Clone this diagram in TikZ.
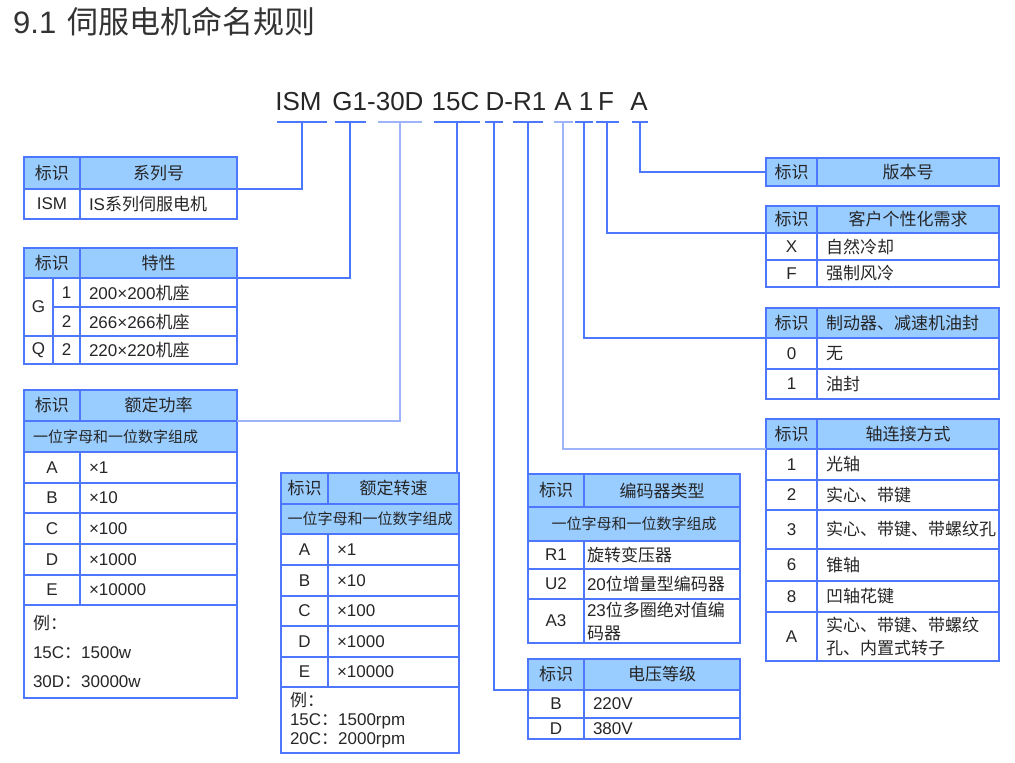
\documentclass[tikz,border=0pt]{standalone}
\usepackage{fontspec}
\setmainfont{Liberation Sans}
\newfontfamily\zhfont{Noto Sans CJK SC}
\newcommand{\zh}[1]{{\zhfont #1}}

\definecolor{tblline}{RGB}{77,119,255}
\definecolor{tblhead}{RGB}{153,204,255}
\definecolor{linkfade}{RGB}{158,180,250}

% one table cell from its corners: [style]{pad}{name}{x1}{y1}{x2}{y2}{text}
\newcommand{\cellnode}[8][]{%
    \pgfmathsetmacro\cellw{#6-#4-2*#2}%
    \pgfmathsetmacro\cellh{#7-#5}%
    \node[cell, inner xsep=#2pt, text width=\cellw pt, minimum height=\cellh pt, #1]
        (#3) at ({(#4+#6)/2}, {(#5+#7)/2}) {#8};%
}
\newcommand{\tcell}[7][]{\cellnode[align=center, #1]{2}{#2}{#3}{#4}{#5}{#6}{#7}}
\newcommand{\vcell}[7][]{\cellnode[align=left, #1]{\cpad}{#2}{#3}{#4}{#5}{#6}{#7}}
\def\cpad{9}

\begin{document}
\begin{tikzpicture}[
    x=1pt, y=-1pt,
    cell/.style={draw=tblline, line width=1.6pt, inner ysep=0pt, outer sep=0pt,
        font=\fontsize{17}{23}\selectfont, text=black!85},
    hdr/.style={fill=tblhead},
    subhdr/.style={fill=tblhead, font=\fontsize{15}{18}\selectfont},
    exrow/.style={font=\fontsize{17}{29}\selectfont},
    exrowtight/.style={font=\fontsize{17}{19}\selectfont},
    code/.style={anchor=base, inner sep=0pt, font=\fontsize{26}{30}\selectfont, text=black!85},
    uline/.style={inner sep=0pt, outer sep=0pt, minimum height=0pt},
    link/.style={draw=tblline, line width=1.6pt},
    fadelink/.style={link, draw=linkfade},
]
\useasboundingbox (0,0) rectangle (1015,763);

% ================================================================
%  TITLE AND MODEL CODE
% ================================================================
\node[anchor=base west, inner sep=0pt, font=\fontsize{31}{36}\selectfont, text=black!80]
    (title) at (13,33) {9.1\hskip 11pt\zh{伺服电机命名规则}};

\node[code] (cISM)  at (298.5,110) {ISM};
\node[code] (cG30D) at (378,110)   {G1-30D};
\node[code] (c15C)  at (455.5,110) {15C};
\node[code] (cDR1)  at (516,110)   {D-R1};
\node[code] (cA)    at (563,110)   {A};
\node[code] (cOne)  at (586,110)   {1};
\node[code] (cF)    at (606,110)   {F};
\node[code] (cVer)  at (639,110)   {A};

% underlines below the code
\node[uline, minimum width=50pt] (uISM) at (302,122) {};
\node[uline, minimum width=31pt] (uG1)  at (350,122) {};
\node[uline, minimum width=44pt] (u30D) at (400,122) {};
\node[uline, minimum width=46pt] (u15C) at (457,122) {};
\node[uline, minimum width=18pt] (uD)   at (494,122) {};
\node[uline, minimum width=30pt] (uR1)  at (528,122) {};
\node[uline, minimum width=19pt] (uA)   at (563,122) {};
\node[uline, minimum width=18pt] (uOne) at (584,122) {};
\node[uline, minimum width=23pt] (uF)   at (607,122) {};
\node[uline, minimum width=16pt] (uVer) at (640,122) {};

% ================================================================
%  LEFT COLUMN
% ================================================================
\def\cpad{9}
% --- series ---
\tcell[hdr]{ismH1}{24}{157}{80}{189}{\zh{标识}}
\tcell[hdr]{ismH2}{80}{157}{237}{189}{\zh{系列号}}
\tcell{ismK}{24}{189}{80}{219}{ISM}
\vcell{ismV}{80}{189}{237}{219}{IS\zh{系列伺服电机}}

% --- characteristic ---
\tcell[hdr]{chrH1}{24}{248}{80}{278}{\zh{标识}}
\tcell[hdr]{chrH2}{80}{248}{237}{278}{\zh{特性}}
\tcell{chrG}{24}{278}{53}{336}{G}
\tcell{chrK1}{53}{278}{80}{307}{1}
\vcell{chrV1}{80}{278}{237}{307}{200×200\zh{机座}}
\tcell{chrK2}{53}{307}{80}{336}{2}
\vcell{chrV2}{80}{307}{237}{336}{266×266\zh{机座}}
\tcell{chrQ}{24}{336}{53}{364}{Q}
\tcell{chrK3}{53}{336}{80}{364}{2}
\vcell{chrV3}{80}{336}{237}{364}{220×220\zh{机座}}

% --- rated power ---
\tcell[hdr]{powH1}{24}{390}{80}{421}{\zh{标识}}
\tcell[hdr]{powH2}{80}{390}{237}{421}{\zh{额定功率}}
\vcell[subhdr]{powS}{24}{421}{237}{452}{\zh{一位字母和一位数字组成}}
\tcell{powKA}{24}{452}{80}{483}{A}
\vcell{powVA}{80}{452}{237}{483}{×1}
\tcell{powKB}{24}{483}{80}{513}{B}
\vcell{powVB}{80}{483}{237}{513}{×10}
\tcell{powKC}{24}{513}{80}{544}{C}
\vcell{powVC}{80}{513}{237}{544}{×100}
\tcell{powKD}{24}{544}{80}{575}{D}
\vcell{powVD}{80}{544}{237}{575}{×1000}
\tcell{powKE}{24}{575}{80}{605}{E}
\vcell{powVE}{80}{575}{237}{605}{×10000}
\vcell[exrow]{powEx}{24}{605}{237}{698}{\zh{例：}\\15C\zh{：}1500w\\30D\zh{：}30000w}

% ================================================================
%  MIDDLE COLUMN
% ================================================================
% --- rated speed ---
\tcell[hdr]{spdH1}{281}{473}{328}{504}{\zh{标识}}
\tcell[hdr]{spdH2}{328}{473}{459}{504}{\zh{额定转速}}
\tcell[subhdr]{spdS}{281}{504}{459}{534}{\zh{一位字母和一位数字组成}}
\tcell{spdKA}{281}{534}{328}{565}{A}
\vcell{spdVA}{328}{534}{459}{565}{×1}
\tcell{spdKB}{281}{565}{328}{596}{B}
\vcell{spdVB}{328}{565}{459}{596}{×10}
\tcell{spdKC}{281}{596}{328}{626}{C}
\vcell{spdVC}{328}{596}{459}{626}{×100}
\tcell{spdKD}{281}{626}{328}{657}{D}
\vcell{spdVD}{328}{626}{459}{657}{×1000}
\tcell{spdKE}{281}{657}{328}{687}{E}
\vcell{spdVE}{328}{657}{459}{687}{×10000}
\vcell[exrowtight]{spdEx}{281}{687}{459}{753}{\zh{例：}\\15C\zh{：}1500rpm\\20C\zh{：}2000rpm}

% --- encoder ---
\def\cpad{3}
\tcell[hdr]{encH1}{528}{474}{584}{507}{\zh{标识}}
\tcell[hdr]{encH2}{584}{474}{740}{507}{\zh{编码器类型}}
\tcell[subhdr]{encS}{528}{507}{740}{541}{\zh{一位字母和一位数字组成}}
\tcell{encK1}{528}{541}{584}{569}{R1}
\vcell{encV1}{584}{541}{740}{569}{\zh{旋转变压器}}
\tcell{encK2}{528}{569}{584}{599}{U2}
\vcell{encV2}{584}{569}{740}{599}{20\zh{位增量型编码器}}
\tcell{encK3}{528}{599}{584}{643}{A3}
\vcell{encV3}{584}{599}{740}{643}{23\zh{位多圈绝对值编}\\\zh{码器}}

% --- voltage ---
\def\cpad{9}
\tcell[hdr]{volH1}{528}{659}{584}{690}{\zh{标识}}
\tcell[hdr]{volH2}{584}{659}{740}{690}{\zh{电压等级}}
\tcell{volKB}{528}{690}{584}{718}{B}
\vcell{volVB}{584}{690}{740}{718}{220V}
\tcell{volKD}{528}{718}{584}{739}{D}
\vcell{volVD}{584}{718}{740}{739}{380V}

% ================================================================
%  RIGHT COLUMN
% ================================================================
% --- version ---
\tcell[hdr]{verH1}{766}{158}{817}{186}{\zh{标识}}
\tcell[hdr]{verH2}{817}{158}{999}{186}{\zh{版本号}}

% --- custom ---
\tcell[hdr]{cusH1}{766}{206}{817}{233}{\zh{标识}}
\tcell[hdr]{cusH2}{817}{206}{999}{233}{\zh{客户个性化需求}}
\tcell{cusKX}{766}{233}{817}{260}{X}
\vcell{cusVX}{817}{233}{999}{260}{\zh{自然冷却}}
\tcell{cusKF}{766}{260}{817}{287}{F}
\vcell{cusVF}{817}{260}{999}{287}{\zh{强制风冷}}

% --- brake / oil seal ---
\tcell[hdr]{brkH1}{766}{308}{817}{338}{\zh{标识}}
\vcell[hdr]{brkH2}{817}{308}{999}{338}{\zh{制动器、减速机油封}}
\tcell{brkK0}{766}{338}{817}{369}{0}
\vcell{brkV0}{817}{338}{999}{369}{\zh{无}}
\tcell{brkK1}{766}{369}{817}{399}{1}
\vcell{brkV1}{817}{369}{999}{399}{\zh{油封}}

% --- shaft ---
\tcell[hdr]{shaH1}{766}{419}{817}{449}{\zh{标识}}
\tcell[hdr]{shaH2}{817}{419}{999}{449}{\zh{轴连接方式}}
\tcell{shaK1}{766}{449}{817}{480}{1}
\vcell{shaV1}{817}{449}{999}{480}{\zh{光轴}}
\tcell{shaK2}{766}{480}{817}{510}{2}
\vcell{shaV2}{817}{480}{999}{510}{\zh{实心、带键}}
\tcell{shaK3}{766}{510}{817}{549}{3}
\vcell{shaV3}{817}{510}{999}{549}{\zh{实心、带键、带螺纹孔}}
\tcell{shaK6}{766}{549}{817}{581}{6}
\vcell{shaV6}{817}{549}{999}{581}{\zh{锥轴}}
\tcell{shaK8}{766}{581}{817}{612}{8}
\vcell{shaV8}{817}{581}{999}{612}{\zh{凹轴花键}}
\tcell{shaKA}{766}{612}{817}{661}{A}
\vcell{shaVA}{817}{612}{999}{661}{\zh{实心、带键、带螺纹}\\\zh{孔、内置式转子}}

% ================================================================
%  CONNECTORS
% ================================================================
\draw[link] (uISM.west) -- (uISM.east) (uISM.center) |- (ismH2.south east);
\draw[link] (uG1.west) -- (uG1.east) (uG1.center) |- (chrH2.south east);
\draw[fadelink] (u30D.west) -- (u30D.east) (u30D.center) |- (powH2.south east);
\draw[link] (u15C.west) -- (u15C.east) (u15C.center) |- (spdH2.north east);
\draw[link] (uD.west) -- (uD.east) (uD.center) |- (volH1.south west);
\draw[link] (uR1.west) -- (uR1.east) (uR1.center) |- (encH1.north west);
\draw[fadelink] (uA.west) -- (uA.east) (uA.center) |- (shaH1.south west);
\draw[link] (uOne.west) -- (uOne.east) (uOne.center) |- (brkH1.south west);
\draw[link] (uF.west) -- (uF.east) (uF.center) |- (cusH1.south west);
\draw[link] (uVer.west) -- (uVer.east) (uVer.center) |- (verH1.west);

\end{tikzpicture}
\end{document}
